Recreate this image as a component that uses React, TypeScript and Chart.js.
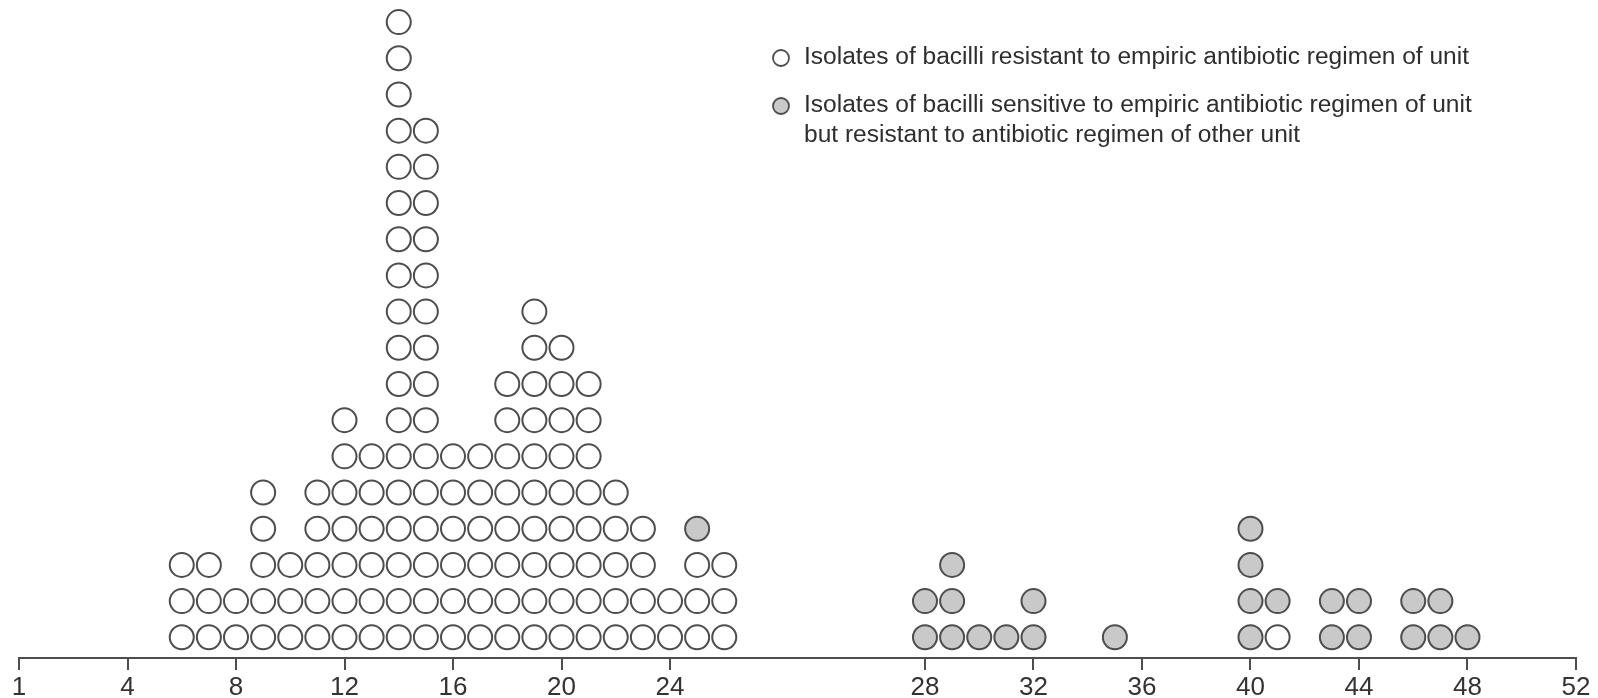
import React, { useEffect, useRef } from "react";
import { Chart, registerables } from "chart.js";

Chart.register(...registerables);

// Values (days) and number of isolates per value
const resistantValues = [6, 7, 8, 9, 10, 11, 12, 13, 14, 15, 16, 17, 18, 19, 20, 21, 22, 23, 24, 25, 26, 41];
const resistantCounts = [3, 3, 2, 5, 3, 5, 7, 6, 18, 15, 6, 6, 8, 10, 9, 8, 5, 4, 2, 3, 3, 1];

const sensitiveValues = [25, 28, 29, 30, 31, 32, 35, 40, 41, 43, 44, 46, 47, 48];
const sensitiveCounts = [1, 2, 3, 1, 1, 2, 1, 4, 1, 2, 2, 2, 2, 1];

// Axis ticks (first tick labelled "1" at the origin)
const tickValues = [0, 4, 8, 12, 16, 20, 24, 28, 32, 36, 40, 44, 48, 52];
const tickLabels = ["1", "4", "8", "12", "16", "20", "24", "28", "32", "36", "40", "44", "48", "52"];

const legendLabels = [
  ["Isolates of bacilli resistant to empiric antibiotic regimen of unit"],
  ["Isolates of bacilli sensitive to empiric antibiotic regimen of unit", "but resistant to antibiotic regimen of other unit"],
];

// Axis break between 26 and 28
const BREAK_AFTER = 26;
const BREAK_GAP = 5.4;
const pos = (v: number) => (v > BREAK_AFTER ? v + BREAK_GAP : v);

const WHITE_FILL = "#ffffff";
const GRAY_FILL = "#c9c9c9";
const STROKE = "#4d4d4d";

function buildPoints() {
  const stackHeight: Record<number, number> = {};
  const white: { x: number; y: number }[] = [];
  resistantValues.forEach((v, i) => {
    for (let k = 0; k < resistantCounts[i]; k++) {
      stackHeight[v] = (stackHeight[v] || 0) + 1;
      white.push({ x: pos(v), y: stackHeight[v] });
    }
  });
  const gray: { x: number; y: number }[] = [];
  sensitiveValues.forEach((v, i) => {
    for (let k = 0; k < sensitiveCounts[i]; k++) {
      stackHeight[v] = (stackHeight[v] || 0) + 1;
      gray.push({ x: pos(v), y: stackHeight[v] });
    }
  });
  return { white, gray };
}

const legendPlugin = {
  id: "customLegend",
  afterDraw(chart: any) {
    const ctx = chart.ctx as CanvasRenderingContext2D;
    const fills = [WHITE_FILL, GRAY_FILL];
    const circleX = 781;
    const textX = 804;
    const rowsY = [58, 106];
    const lineGap = 29.5;
    const targetWidth = 665;
    ctx.save();
    ctx.font = '23px "Liberation Sans Narrow", "Liberation Sans", Arial, sans-serif';
    const measured = ctx.measureText(legendLabels[0][0]).width;
    const sx = measured > 0 ? targetWidth / measured : 1;
    legendLabels.forEach((lines, i) => {
      ctx.beginPath();
      ctx.arc(circleX, rowsY[i], 8, 0, Math.PI * 2);
      ctx.fillStyle = fills[i];
      ctx.fill();
      ctx.lineWidth = 1.8;
      ctx.strokeStyle = STROKE;
      ctx.stroke();
      lines.forEach((line, j) => {
        ctx.save();
        ctx.translate(textX, rowsY[i] + j * lineGap);
        ctx.scale(sx, 1);
        ctx.fillStyle = "#2e2e2e";
        ctx.textBaseline = "middle";
        ctx.textAlign = "left";
        ctx.fillText(line, 0, 0);
        ctx.restore();
      });
    });
    ctx.restore();
  },
};

export default function App() {
  const canvasRef = useRef<HTMLCanvasElement | null>(null);

  useEffect(() => {
    if (!canvasRef.current) return;
    const { white, gray } = buildPoints();
    const chart = new Chart(canvasRef.current, {
      type: "scatter",
      data: {
        datasets: [
          {
            label: legendLabels[0].join(" "),
            data: white,
            backgroundColor: WHITE_FILL,
            borderColor: STROKE,
            borderWidth: 2,
            pointRadius: 12,
            pointHoverRadius: 12,
          },
          {
            label: legendLabels[1].join(" "),
            data: gray,
            backgroundColor: GRAY_FILL,
            borderColor: STROKE,
            borderWidth: 2,
            pointRadius: 12,
            pointHoverRadius: 12,
          },
        ],
      },
      options: {
        responsive: false,
        animation: false,
        devicePixelRatio: 1,
        layout: { autoPadding: false, padding: { left: 19, right: 22, top: 8, bottom: -8 } },
        plugins: {
          legend: { display: false },
          tooltip: { enabled: false },
        },
        events: [],
        scales: {
          x: {
            type: "linear",
            min: 0,
            max: pos(52),
            afterBuildTicks: (scale: any) => {
              scale.ticks = tickValues.map((v) => ({ value: pos(v) }));
            },
            ticks: {
              autoSkip: false,
              maxRotation: 0,
              minRotation: 0,
              padding: 5,
              color: "#333333",
              font: { family: '"Liberation Sans", Arial, sans-serif', size: 26, lineHeight: 1 },
              callback: (_v: any, index: number) => tickLabels[index],
            },
            grid: {
              display: true,
              drawOnChartArea: false,
              drawTicks: true,
              tickLength: 12,
              color: "#4d4d4d",
              lineWidth: 2,
            },
            border: { display: true, color: "#4d4d4d", width: 2 },
          },
          y: {
            type: "linear",
            display: false,
            min: 0.428,
            max: 18.39,
          },
        },
      },
      plugins: [legendPlugin],
    });
    return () => chart.destroy();
  }, []);

  return (
    <div style={{ position: "absolute", left: 0, top: 0, width: 1598, height: 698, background: "#fff", overflow: "hidden" }}>
      <canvas ref={canvasRef} width={1598} height={698} />
    </div>
  );
}
